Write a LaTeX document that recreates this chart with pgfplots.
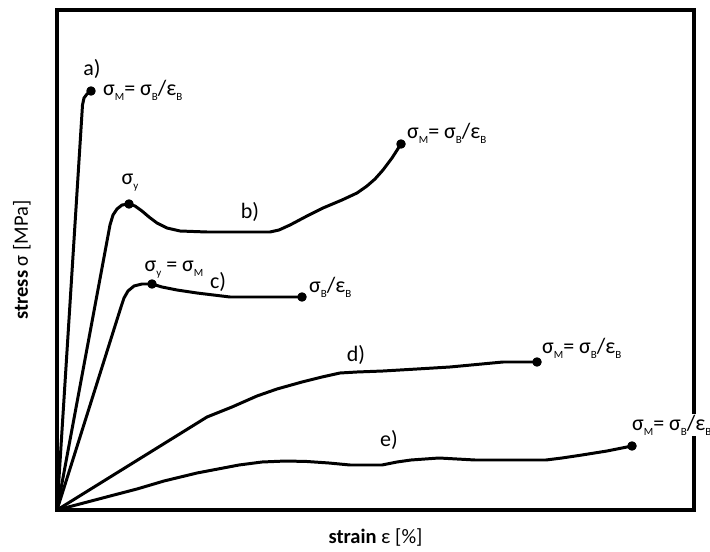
\documentclass[border=0pt]{standalone}
\usepackage{fontspec}
\setmainfont{Carlito}
\usepackage{pgfplots}
\pgfplotsset{compat=1.18}
\newcommand\sub[1]{\raisebox{-0.45ex}{\fontsize{11bp}{11bp}\selectfont #1}}
\newcommand\lab{σ\sub{M}= σ\sub{B}/ε\sub{B}}
\begin{document}
\begin{tikzpicture}[font=\fontsize{22bp}{25bp}\selectfont]
\useasboundingbox (0,0) rectangle (710bp,552bp);
\begin{axis}[
  at={(57bp,42bp)}, anchor=south west,
  scale only axis, width=637bp, height=500bp,
  xmin=0, xmax=637, ymin=0, ymax=500,
  xtick=\empty, ytick=\empty,
  separate axis lines,
  axis line style={line width=3.2pt, line cap=rect, -},
  clip=false,
  xlabel={\textbf{strain} ε [\%]},
  ylabel={\textbf{stress} σ [MPa]},
  x label style={at={(axis description cs:0.5,-0.054)}, anchor=center, font=\fontsize{20.5bp}{24bp}\selectfont},
  y label style={at={(axis description cs:-0.055,0.5)}, anchor=center, rotate=0, font=\fontsize{20.5bp}{24bp}\selectfont},
  every axis plot/.append style={line width=3pt, black, line join=round, line cap=round},
]
% a)
\addplot[no marks] coordinates {(0,0) (25,397) (25.5,405) (27,412) (30,416) (34,419)};
% b)
\addplot[no marks] coordinates {(0,0) (53,285) (56,295) (60,301) (65,305) (72,306) (78,304) (85,299) (92,293) (100,287) (110,282) (123,279) (150,278) (213,278) (222,280) (233,285) (250,294) (266,302) (285,310) (300,317) (310,324) (318,331) (326,340) (335,352) (344,366)};
% c)
\addplot[no marks] coordinates {(0,0) (64,203) (67,212) (71,219) (77,224) (85,226) (95,226) (105,223) (120,220) (140,217) (173,213) (210,213) (245,213)};
% d)
\addplot[no marks] coordinates {(0,0) (150,93) (175,103) (200,114) (220,121) (245,128) (265,133) (283,137) (300,138) (326,139) (360,141) (393,143) (446,148) (480,148)};
% e)
\addplot[no marks] coordinates {(0,0) (57,15) (80,21) (107,29) (140,37) (182,45) (205,48) (229,49) (250,48.5) (272,47) (293,45) (310,45) (325,45) (340,48) (354,50) (382,52) (418,50) (489,50) (505,52) (525,55) (550,59) (575,64)};
% dots
\addplot[only marks, mark=*, mark size=3.2pt, mark options={fill=black}] coordinates {(34,419) (72,306) (344,366) (95,226) (245,213) (480,148) (575,64)};
% labels
\node at (axis cs:35,441) {a)};
\node[anchor=west, inner sep=1pt] at (axis cs:45,420) {\lab};
\node at (axis cs:73,327) {σ\sub{y}};
\node at (axis cs:193,298) {b)};
\node[anchor=west, inner sep=1pt] at (axis cs:349,377) {\lab};
\node at (axis cs:117,240) {σ\sub{y} = σ\sub{M}};
\node at (axis cs:161,228) {c)};
\node[anchor=west, inner sep=1pt] at (axis cs:251,223) {σ\sub{B}/ε\sub{B}};
\node at (axis cs:299,155) {d)};
\node[anchor=west, inner sep=1pt] at (axis cs:484,162) {\lab};
\node at (axis cs:332,70) {e)};
\node[anchor=west, inner sep=1pt, fill=white] at (axis cs:574,85) {\lab};
\end{axis}
\end{tikzpicture}
\end{document}
